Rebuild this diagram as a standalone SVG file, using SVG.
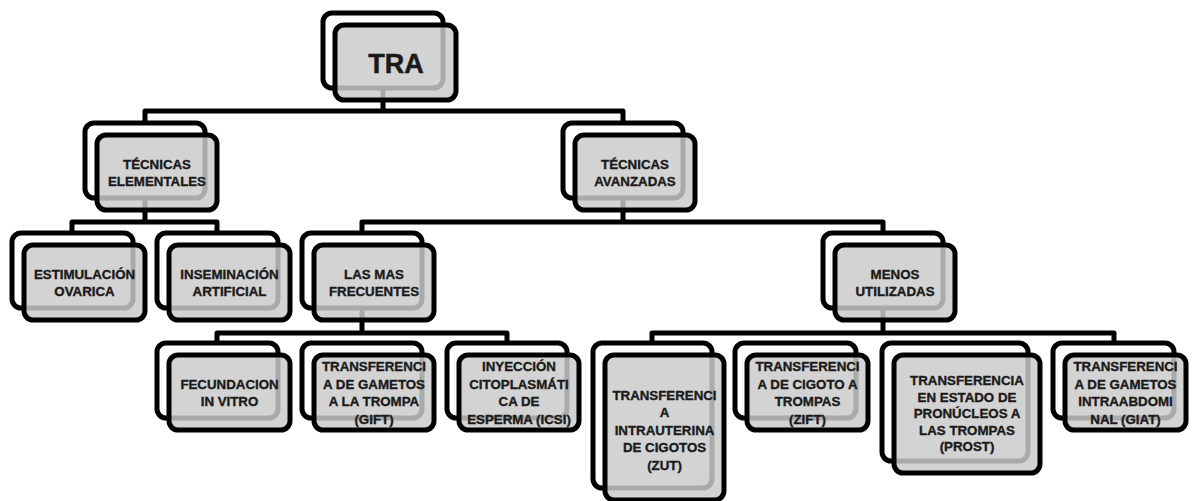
<svg xmlns="http://www.w3.org/2000/svg" width="1192" height="501" viewBox="0 0 1192 501">
<style>
.bk{fill:#ffffff;stroke:#000000;stroke-width:5}
.fr{fill:#cacaca;fill-opacity:0.84;stroke:#000000;stroke-width:5}
.cn{fill:none;stroke:#000000;stroke-width:5;stroke-linejoin:round}
.t{font-family:"Liberation Sans",Arial,sans-serif;font-weight:bold;font-size:13.3px;fill:#1a1a1a;stroke:#1a1a1a;stroke-width:0.35;text-anchor:middle}
.tb{font-family:"Liberation Sans",Arial,sans-serif;font-weight:bold;font-size:27px;fill:#1a1a1a;stroke:#1a1a1a;stroke-width:0.5;text-anchor:middle}
</style>
<rect width="1192" height="501" fill="#ffffff"/>
<g id="connectors">
<path class="cn" d="M383 88V111M145 123V111H623V123"/>
<path class="cn" d="M145 198V222M72 233V222H217V233"/>
<path class="cn" d="M623 198V222M362 233V222H883V233"/>
<path class="cn" d="M362 308V333M217 343V333H507V343"/>
<path class="cn" d="M883 308V333M652 343V333H1114V343"/>
</g>
<g id="n-tra">
<rect class="bk" x="323" y="13" width="120" height="75" rx="9"/>
<rect class="fr" x="335" y="25" width="121" height="75" rx="9"/>
<text class="tb" x="396" y="72.5">TRA</text>
</g>
<g id="n-elementales">
<rect class="bk" x="85" y="123" width="120" height="75" rx="9"/>
<rect class="fr" x="97" y="135" width="120" height="75" rx="9"/>
<text class="t" x="157" y="168.5">TÉCNICAS</text>
<text class="t" x="157" y="186">ELEMENTALES</text>
</g>
<g id="n-avanzadas">
<rect class="bk" x="563" y="123" width="120" height="75" rx="9"/>
<rect class="fr" x="575" y="135" width="120" height="75" rx="9"/>
<text class="t" x="635" y="168.5">TÉCNICAS</text>
<text class="t" x="635" y="186">AVANZADAS</text>
</g>
<g id="n-estimulacion">
<rect class="bk" x="12" y="233" width="121" height="75" rx="9"/>
<rect class="fr" x="24" y="245" width="121" height="75" rx="9"/>
<text class="t" x="84.5" y="278.5">ESTIMULACIÓN</text>
<text class="t" x="84.5" y="296">OVARICA</text>
</g>
<g id="n-inseminacion">
<rect class="bk" x="157" y="233" width="121" height="75" rx="9"/>
<rect class="fr" x="169" y="245" width="121" height="75" rx="9"/>
<text class="t" x="229.5" y="278.5">INSEMINACIÓN</text>
<text class="t" x="229.5" y="296">ARTIFICIAL</text>
</g>
<g id="n-frecuentes">
<rect class="bk" x="302" y="233" width="120" height="75" rx="9"/>
<rect class="fr" x="314" y="245" width="120" height="75" rx="9"/>
<text class="t" x="374" y="278.5">LAS MAS</text>
<text class="t" x="374" y="296">FRECUENTES</text>
</g>
<g id="n-menos">
<rect class="bk" x="823" y="233" width="120" height="75" rx="9"/>
<rect class="fr" x="835" y="245" width="120" height="75" rx="9"/>
<text class="t" x="895" y="278.5">MENOS</text>
<text class="t" x="895" y="296">UTILIZADAS</text>
</g>
<g id="n-fiv">
<rect class="bk" x="157" y="343" width="121" height="75" rx="9"/>
<rect class="fr" x="169" y="355" width="121" height="75" rx="9"/>
<text class="t" x="229.5" y="388.5">FECUNDACION</text>
<text class="t" x="229.5" y="406">IN VITRO</text>
</g>
<g id="n-gift">
<rect class="bk" x="302" y="343" width="120" height="75" rx="9"/>
<rect class="fr" x="314" y="355" width="120" height="75" rx="9"/>
<text class="t" x="374" y="371">TRANSFERENCI</text>
<text class="t" x="374" y="388.5">A DE GAMETOS</text>
<text class="t" x="374" y="406">A LA TROMPA</text>
<text class="t" x="374" y="423.5">(GIFT)</text>
</g>
<g id="n-icsi">
<rect class="bk" x="447" y="343" width="120" height="75" rx="9"/>
<rect class="fr" x="459" y="355" width="120" height="75" rx="9"/>
<text class="t" x="519" y="371">INYECCIÓN</text>
<text class="t" x="519" y="388.5">CITOPLASMÁTI</text>
<text class="t" x="519" y="406">CA DE</text>
<text class="t" x="519" y="423.5">ESPERMA (ICSI)</text>
</g>
<g id="n-zut">
<rect class="bk" x="593" y="343" width="119" height="145" rx="9"/>
<rect class="fr" x="605" y="355" width="119" height="145" rx="9"/>
<text class="t" x="664.5" y="399.5">TRANSFERENCI</text>
<text class="t" x="664.5" y="417">A</text>
<text class="t" x="664.5" y="434.5">INTRAUTERINA</text>
<text class="t" x="664.5" y="452">DE CIGOTOS</text>
<text class="t" x="664.5" y="469.5">(ZUT)</text>
</g>
<g id="n-zift">
<rect class="bk" x="735" y="343" width="121" height="75" rx="9"/>
<rect class="fr" x="747" y="355" width="121" height="75" rx="9"/>
<text class="t" x="807.5" y="371">TRANSFERENCI</text>
<text class="t" x="807.5" y="388.5">A DE CIGOTO A</text>
<text class="t" x="807.5" y="406">TROMPAS</text>
<text class="t" x="807.5" y="423.5">(ZIFT)</text>
</g>
<g id="n-prost">
<rect class="bk" x="882" y="343" width="146" height="118" rx="9"/>
<rect class="fr" x="894" y="355" width="146" height="118" rx="9"/>
<text class="t" x="967" y="385">TRANSFERENCIA</text>
<text class="t" x="967" y="401.5">EN ESTADO DE</text>
<text class="t" x="967" y="418">PRONÚCLEOS A</text>
<text class="t" x="967" y="434.5">LAS TROMPAS</text>
<text class="t" x="967" y="451">(PROST)</text>
</g>
<g id="n-giat">
<rect class="bk" x="1053" y="343" width="121" height="75" rx="9"/>
<rect class="fr" x="1065" y="355" width="121" height="75" rx="9"/>
<text class="t" x="1125.5" y="371">TRANSFERENCI</text>
<text class="t" x="1125.5" y="388.5">A DE GAMETOS</text>
<text class="t" x="1125.5" y="406">INTRAABDOMI</text>
<text class="t" x="1125.5" y="423.5">NAL (GIAT)</text>
</g>
</svg>
